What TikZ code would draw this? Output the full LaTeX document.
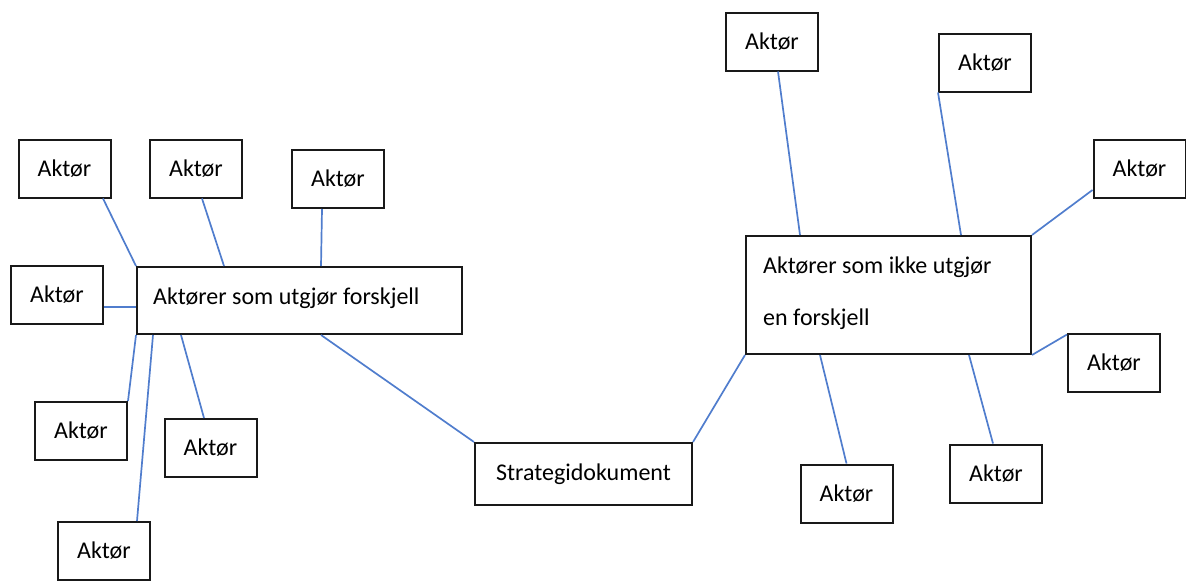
\documentclass[tikz,border=0pt]{standalone}
\usepackage{fontspec}
\setmainfont{Carlito}
\definecolor{linkblue}{RGB}{80,125,205}
\begin{document}
\begin{tikzpicture}[x=1pt,y=-1pt,
  box/.style={draw=black!90,line width=2pt,inner sep=0pt,fill=white},
  actor/.style={box,minimum width=92pt,minimum height=58pt,
    font=\fontsize{24}{28}\selectfont},
  txt/.style={inner sep=0pt,anchor=base west,font=\fontsize{24}{28}\selectfont},
  link/.style={draw=linkblue,line width=1.7pt}]
\useasboundingbox (0,0) rectangle (1186,581);

% central document
\node[box,minimum width=217pt,minimum height=62pt,
      font=\fontsize{24}{28}\selectfont] (strat) at (583.5,474) {Strategidokument};

% group of actors that make a difference
\node[box,minimum width=325pt,minimum height=67pt] (mainL) at (299.5,300.5) {};
\node[txt] (mainLtxt) at (153,304) {Aktører som utgjør forskjell};

\node[actor] (a1) at (64.5,168.5) {Aktør};
\node[actor] (a2) at (196,168.5) {Aktør};
\node[actor] (a3) at (338,179) {Aktør};
\node[actor] (a4) at (57,295) {Aktør};
\node[actor] (a5) at (81,431) {Aktør};
\node[actor] (a6) at (210.5,448) {Aktør};
\node[actor] (a7) at (104,551) {Aktør};

% group of actors that do not make a difference
\node[box,minimum width=285pt,minimum height=118pt] (mainR) at (888.5,295) {};
\node[txt] (mainRa) at (763,273) {Aktører som ikke utgjør};
\node[txt] (mainRb) at (763,325) {en forskjell};

\node[actor] (r1) at (772,41.5) {Aktør};
\node[actor] (r2) at (985,62.5) {Aktør};
\node[actor] (r3) at (1139.5,168.5) {Aktør};
\node[actor] (r4) at (1114,362.5) {Aktør};
\node[actor] (r5) at (996,473.5) {Aktør};
\node[actor] (r6) at (846.5,493.5) {Aktør};

% connectors, left group
\draw[link] ([xshift=38.5pt]a1.south) -- (mainL.north west);
\draw[link] ([xshift=6pt]a2.south) -- ([xshift=88pt]mainL.north west);
\draw[link] ([xshift=-16pt]a3.south) -- ([xshift=185pt]mainL.north west);
\draw[link] ([yshift=-12pt]a4.east) -- ([yshift=-6.5pt]mainL.west);
\draw[link] (a5.north east) -- (mainL.south west);
\draw[link] ([xshift=-6.5pt]a6.north) -- ([xshift=45pt]mainL.south west);
\draw[link] ([xshift=33pt]a7.north) -- ([xshift=17pt]mainL.south west);

% connectors to the central document
\draw[link] ([xshift=185pt]mainL.south west) -- (strat.north west);
\draw[link] (strat.north east) -- (mainR.south west);

% connectors, right group
\draw[link] ([xshift=6pt]r1.south) -- ([xshift=55pt]mainR.north west);
\draw[link] (r2.south west) -- ([xshift=216pt]mainR.north west);
\draw[link] ([yshift=-21.5pt]r3.west) -- (mainR.north east);
\draw[link] ([yshift=-2pt]r4.north west) -- (mainR.south east);
\draw[link] ([xshift=-3pt]r5.north) -- ([xshift=224pt]mainR.south west);
\draw[link] (r6.north) -- ([xshift=75pt]mainR.south west);
\end{tikzpicture}
\end{document}
